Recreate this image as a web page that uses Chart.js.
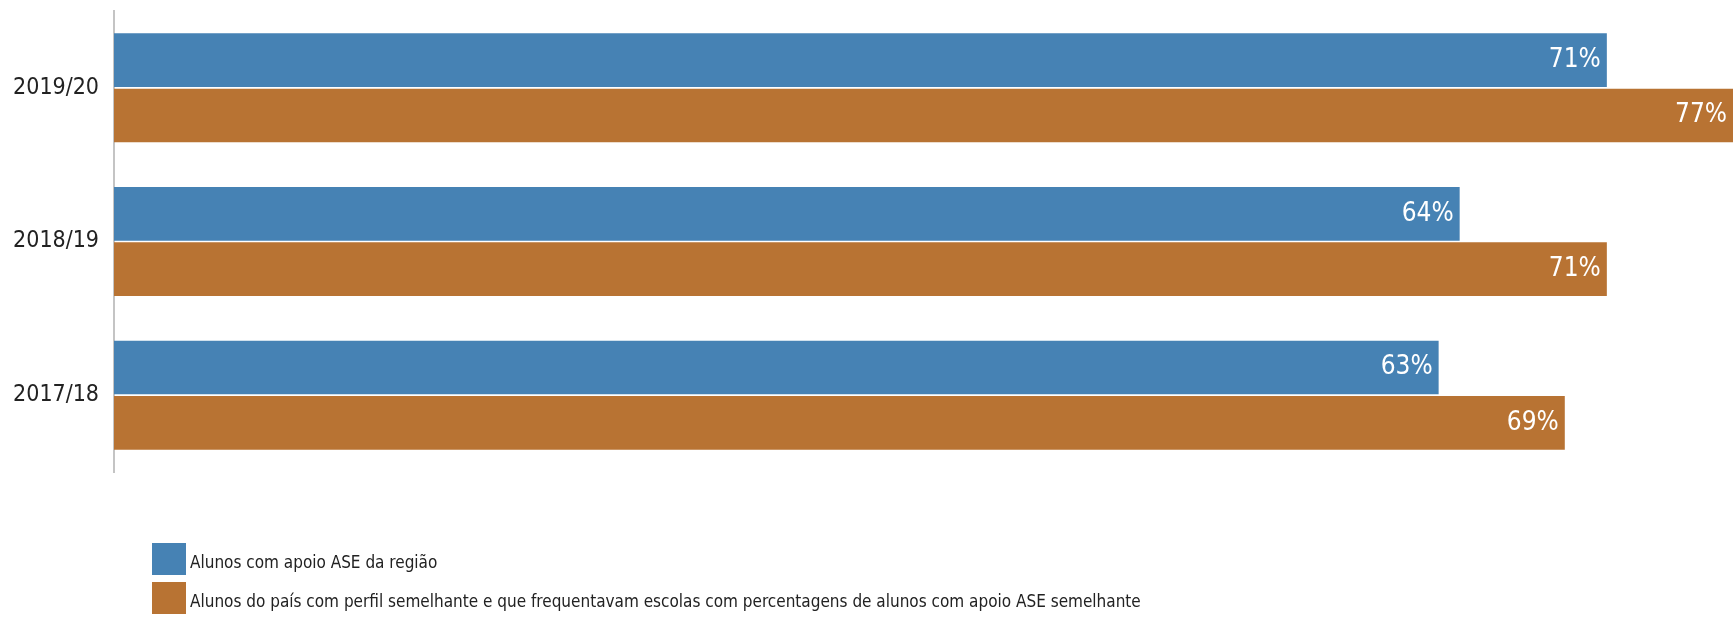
<!DOCTYPE html>
<html>
<head>
<meta charset="utf-8">
<script src="https://cdn.jsdelivr.net/npm/chart.js@4/dist/chart.umd.min.js"></script>
<style>
  body { margin: 0; background: #fff; overflow: hidden; }
  #wrap { position: relative; width: 1733px; height: 619px; }
  #legend { position: absolute; left: 152px; top: 543px; font-family: 'Liberation Sans Narrow', 'Arial Narrow', 'DejaVu Sans Condensed', sans-serif; font-size: 17px; color: #222; }
  .item { display: flex; align-items: flex-end; height: 32px; margin-bottom: 7px; line-height: 26px; }
  .box { width: 34px; height: 32px; margin-right: 4px; }
</style>
</head>
<body>
<div id="wrap">
  <canvas id="chart" width="1733" height="619"></canvas>
  <div id="legend"></div>
</div>
<script>
// Dados
const anos = ["2019/20", "2018/19", "2017/18"];
const regiao = [71, 64, 63];
const pais = [77, 71, 69];
const nomes = [
  "Alunos com apoio ASE da região",
  "Alunos do país com perfil semelhante e que frequentavam escolas com percentagens de alunos com apoio ASE semelhante"
];
const cores = ["#4682b4", "#b87333"];

const FONTE = "'Liberation Sans Narrow', 'Arial Narrow', 'DejaVu Sans Condensed', sans-serif";

// Rótulos dentro das barras
const rotulos = {
  id: "rotulos",
  afterDatasetsDraw(chart) {
    const ctx = chart.ctx;
    ctx.save();
    ctx.font = "26px " + FONTE;
    ctx.fillStyle = "#fff";
    ctx.textAlign = "right";
    ctx.textBaseline = "middle";
    chart.data.datasets.forEach((ds, i) => {
      chart.getDatasetMeta(i).data.forEach((bar, j) => {
        ctx.fillText(ds.data[j] + "%", bar.x - 6, bar.y);
      });
    });
    ctx.restore();
  }
};

const chart = new Chart(document.getElementById("chart"), {
  type: "bar",
  data: {
    labels: anos,
    datasets: [
      { label: nomes[0], data: regiao, backgroundColor: cores[0] },
      { label: nomes[1], data: pais, backgroundColor: cores[1] }
    ]
  },
  options: {
    indexAxis: "y",
    responsive: false,
    devicePixelRatio: 1,
    animation: false,
    categoryPercentage: 0.72,
    barPercentage: 0.97,
    layout: { padding: { top: 11, bottom: 147, left: 0, right: 0 } },
    plugins: {
      legend: { display: false },
      tooltip: { enabled: false }
    },
    scales: {
      x: { display: false, min: 0, max: 77 },
      y: {
        grid: { display: false, drawTicks: false },
        border: { display: true, color: "#c4c4c4", width: 2 },
        ticks: { color: "#222", padding: 15, font: { family: FONTE, size: 23 } },
        afterFit: s => { s.width = 114; s.paddingTop = 0; s.paddingBottom = 0; }
      }
    }
  },
  plugins: [rotulos]
});

// Legenda
const leg = document.getElementById("legend");
nomes.forEach((n, i) => {
  const d = document.createElement("div");
  d.className = "item";
  d.innerHTML = '<span class="box" style="background:' + cores[i] + '"></span><span>' + n + "</span>";
  leg.appendChild(d);
});
</script>
</body>
</html>
